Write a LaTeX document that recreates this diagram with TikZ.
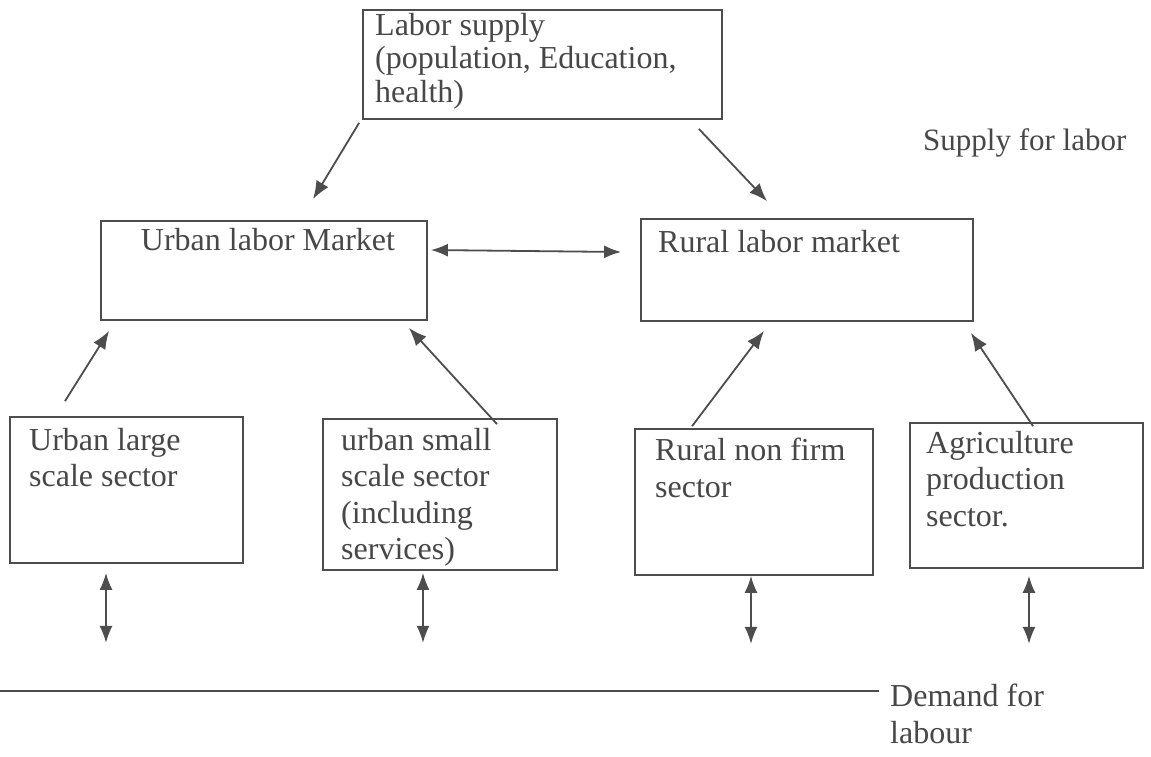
\documentclass[tikz,border=0pt]{standalone}
\usepackage{fontspec}
\setmainfont{Liberation Serif}
\usetikzlibrary{arrows.meta,calc}
\definecolor{ink}{HTML}{474747}
\definecolor{linec}{HTML}{4D4D4D}
\begin{document}
\begin{tikzpicture}[x=1pt,y=-1pt,
  box/.style={draw=linec, line width=1.8pt, rectangle, inner sep=0pt},
  txt/.style={text=ink, inner sep=0pt, anchor=north west, align=left, font=\fontsize{32}{36.5}\selectfont},
  arr/.style={draw=linec, line width=1.8pt, -{Latex[length=18pt,width=14pt]}},
  darr/.style={draw=linec, line width=1.8pt, {Latex[length=17pt,width=13pt]}-{Latex[length=17pt,width=13pt]}}]
\useasboundingbox[fill=white] (0,0) rectangle (1151,756);

% boxes
\node[box, minimum width=359pt, minimum height=109pt] (top) at (542.5,64.5) {};
\node[box, minimum width=326pt, minimum height=99pt]  (ulm) at (264,270.5) {};
\node[box, minimum width=332pt, minimum height=102pt] (rlm) at (807,270) {};
\node[box, minimum width=233pt, minimum height=146pt] (uls) at (126.5,490) {};
\node[box, minimum width=234pt, minimum height=151pt] (uss) at (440,494.5) {};
\node[box, minimum width=238pt, minimum height=146pt] (rnf) at (754,502) {};
\node[box, minimum width=233pt, minimum height=145pt] (agr) at (1026.5,495.5) {};

% texts
\node[txt, font=\fontsize{32}{33.5}\selectfont] (toptxt) at (375,13) {Labor supply\\(population, Education,\\health)};
\node[txt, anchor=north] (ulmtxt) at (268,228) {Urban labor Market};
\node[txt] (rlmtxt) at (658,230) {Rural labor market};
\node[txt] (ulstxt) at (29,428) {Urban large\\scale sector};
\node[txt] (usstxt) at (341,428) {urban small\\scale sector\\(including\\services)};
\node[txt] (rnftxt) at (655,438) {Rural non firm\\sector};
\node[txt] (agrtxt) at (926,431) {Agriculture\\production\\sector.};
\node[txt, font=\fontsize{31}{36}\selectfont] (sup) at (923,128) {Supply for labor};
\node[txt] (dem) at (890,684) {Demand for\\labour};

% connectors
\draw[arr] ($(top.south west)+(-3,3)$) -- ($(ulm.north)+(49,-21)$);
\draw[arr] ($(top.south east)+(-24,9)$) -- ($(rlm.north)+(-40,-17)$);
\draw[darr] ($(ulm.east)+(3,-20.5)$) -- ($(rlm.west)+(-19,-18)$);
\draw[arr] ($(uls.north)+(-61.5,-15)$) -- ($(ulm.south west)+(9,10)$);
\draw[arr] ($(uss.north)+(57,6)$) -- ($(ulm.south east)+(-19,7)$);
\draw[arr] ($(rnf.north west)+(58,-2)$) -- ($(rlm.south)+(-43,9)$);
\draw[arr] ($(agr.north)+(6.5,4)$) -- ($(rlm.south east)+(-3,11)$);

\draw[darr] ($(uls.south)+(-20.5,9)$) -- ($(uls.south)+(-20.5,79)$);
\draw[darr] ($(uss.south)+(-17,2)$) -- ($(uss.south)+(-17,72)$);
\draw[darr] ($(rnf.south)+(-3,0)$) -- ($(rnf.south)+(-3,68)$);
\draw[darr] ($(agr.south)+(2.5,7)$) -- ($(agr.south)+(2.5,75)$);

\coordinate (dl) at (0,691);
\draw[draw=linec, line width=1.8pt] (dl) -- ($(dem.north west)+(-11,7)$);
\end{tikzpicture}
\end{document}
